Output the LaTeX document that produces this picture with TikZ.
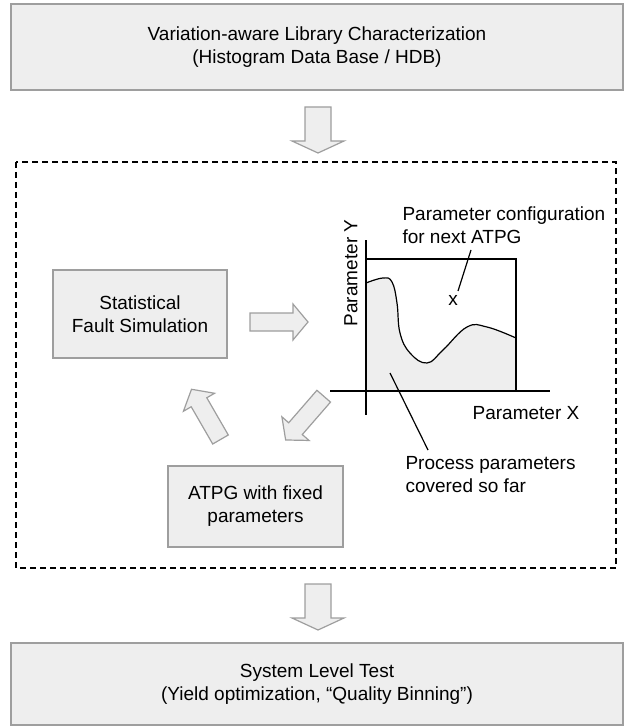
\documentclass[tikz,border=0pt]{standalone}
\usepackage{fontspec}
\setmainfont{Liberation Sans}
\definecolor{boxfill}{HTML}{EEEEEE}
\definecolor{boxline}{HTML}{9E9E9E}

\begin{document}
\begin{tikzpicture}[x=1pt,y=-1pt,
  font=\fontsize{19}{23}\selectfont,
  stage/.style={draw=boxline,fill=boxfill,line width=1.5pt,align=center,inner sep=0pt},
  arrowbox/.style={draw=boxline,fill=boxfill,line width=1.2pt,line join=miter},
  pics/fatarrow/.style n args={4}{code={
    \filldraw[arrowbox] (0,#2/2) -- (#1-#4,#2/2) -- (#1-#4,#3/2) -- (#1,0)
      -- (#1-#4,-#3/2) -- (#1-#4,-#2/2) -- (0,-#2/2) -- cycle;}}]
\useasboundingbox (0,0) rectangle (635,727);

% outer stages
\node[stage,minimum width=612,minimum height=86] (lib) at (317,47)
  {Variation-aware Library Characterization\\(Histogram Data Base / HDB)};
\node[stage,minimum width=612,minimum height=82] (sys) at (317,684)
  {System Level Test\\(Yield optimization, ``Quality Binning'')};
\pic[rotate=-90] at (318,107) {fatarrow={46}{26}{52}{12}};
\pic[rotate=-90] at (318,584) {fatarrow={46}{26}{52}{12}};

% the loop
\draw[line width=1.6pt,dash pattern=on 6pt off 4pt] (16,162) rectangle (616,568);
\node[stage,minimum width=174,minimum height=88] (sim) at (140,314)
  {Statistical\\Fault Simulation};
\node[stage,minimum width=175,minimum height=81] (atpg) at (255.5,506.5)
  {ATPG with fixed\\parameters};
\pic at (250,322) {fatarrow={58}{18}{36}{15}};
\pic[rotate=229] at (323.7,396.2) {fatarrow={58}{18}{36}{15}};
\pic[rotate=120] at (220.5,439.5) {fatarrow={58}{18}{36}{15}};

% parameter space
\fill[boxfill] (366,391) -- plot[smooth,tension=0.7] coordinates {(366,283) (383,278) (392,282)
  (397,303) (400,333) (410,353) (427,363) (443,350) (467,327) (487,327) (516,338)} -- (516,391) -- cycle;
\draw[line width=1.2pt] plot[smooth,tension=0.7] coordinates {(366,283) (383,278) (392,282)
  (397,303) (400,333) (410,353) (427,363) (443,350) (467,327) (487,327) (516,338)};
\draw[line width=1.2pt] (366,391) rectangle (516,259);
\draw[line width=1.2pt] (330,391) -- (550,391);
\draw[line width=1.2pt] (366,240) -- (366,415);

\node[rotate=90] (ylab) at (351,273) {Parameter Y};
\node (xlab) at (526,413) {Parameter X};
\node (xmark) at (453,300) {x};
\node[align=left,anchor=west] (cfg) at (399,225) {Parameter configuration\\for next ATPG};
\node[align=left,anchor=west] (cov) at (402,475) {Process parameters\\covered so far};

\coordinate (cfgfoot) at (471,250);
\coordinate (xtop) at (458,291);
\coordinate (areapt) at (390,373);
\coordinate (covtop) at (428,450);
\draw[line width=1.2pt] (cfgfoot) -- (xtop);
\draw[line width=1.2pt] (areapt) -- (covtop);
\end{tikzpicture}
\end{document}
